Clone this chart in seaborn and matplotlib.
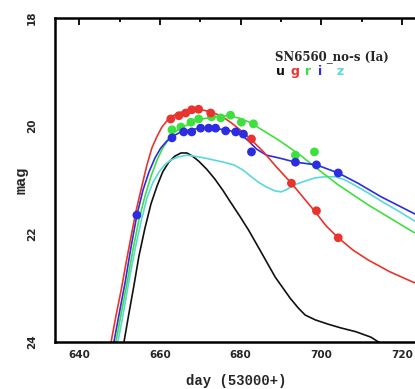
import matplotlib
matplotlib.use("Agg")
import matplotlib.pyplot as plt
import seaborn as sns
import pandas as pd
from matplotlib.ticker import MultipleLocator

# Model light curves (day - 53000, magnitude) for each band
u_day = [651.1, 652.3, 653.6, 654.8, 656.3, 657.8, 659.3, 660.7, 662.2, 663.7, 665.2, 666.7, 668.1, 669.6,
         671.6, 673.6, 675.6, 677.5, 679.8, 682.0, 685.2, 688.6, 692.3, 694.3, 696.0, 698.5, 701.7, 704.9,
         708.6, 712.3, 714.6, 717.8]
u_mag = [24.0, 23.48, 22.94, 22.41, 21.89, 21.44, 21.11, 20.85, 20.67, 20.56, 20.50, 20.50, 20.56, 20.65,
         20.80, 20.98, 21.19, 21.41, 21.67, 21.93, 22.35, 22.80, 23.19, 23.37, 23.50, 23.59, 23.67, 23.74,
         23.81, 23.91, 24.02, 24.11]

g_day = [647.9, 649.1, 650.4, 651.6, 652.8, 654.1, 655.6, 656.8, 658.0, 659.3, 660.5, 661.7, 663.2, 664.7,
         666.4, 668.4, 670.4, 672.6, 675.1, 677.5, 680.2, 682.7, 685.7, 688.9, 692.6, 695.6, 698.5, 701.2,
         704.2, 707.9, 711.6, 717.0, 722.7, 728.0]
g_mag = [24.0, 23.52, 23.04, 22.54, 22.07, 21.57, 21.09, 20.72, 20.41, 20.19, 20.02, 19.91, 19.81, 19.76,
         19.72, 19.70, 19.70, 19.74, 19.81, 19.93, 20.09, 20.26, 20.48, 20.76, 21.06, 21.33, 21.59, 21.85,
         22.07, 22.30, 22.48, 22.70, 22.89, 23.02]

r_day = [649.1, 650.4, 651.9, 653.3, 654.8, 656.3, 657.8, 659.3, 660.7, 662.2, 663.7, 665.7, 668.1, 670.6,
         673.3, 676.5, 679.5, 682.5, 685.7, 689.4, 692.3, 695.3, 698.8, 704.2, 711.6, 722.7, 728.0]
r_mag = [24.0, 23.48, 22.89, 22.30, 21.74, 21.30, 20.93, 20.63, 20.41, 20.24, 20.11, 20.02, 19.93, 19.87,
         19.83, 19.81, 19.85, 19.94, 20.09, 20.26, 20.41, 20.57, 20.78, 21.09, 21.46, 21.96, 22.15]

i_day = [648.6, 649.9, 651.4, 652.8, 654.3, 655.8, 657.3, 658.8, 660.2, 661.7, 663.2, 665.2, 667.7, 670.1,
         672.6, 675.1, 677.5, 680.0, 682.0, 684.0, 686.4, 689.4, 693.6, 698.8, 704.2, 709.1, 714.8, 722.7,
         728.0]
i_mag = [24.0, 23.48, 22.89, 22.26, 21.65, 21.19, 20.85, 20.59, 20.41, 20.28, 20.19, 20.11, 20.07, 20.04,
         20.04, 20.06, 20.09, 20.15, 20.28, 20.43, 20.54, 20.59, 20.67, 20.72, 20.87, 21.06, 21.31, 21.61,
         21.80]

z_day = [649.6, 650.9, 652.3, 653.8, 655.3, 656.8, 658.3, 659.8, 661.2, 662.7, 664.7, 666.7, 668.6, 670.9,
         673.3, 675.8, 678.3, 680.5, 682.5, 684.4, 686.4, 688.4, 690.1, 691.6, 693.3, 696.0, 698.5, 701.0,
         703.5, 705.9, 708.6, 711.6, 715.3, 719.0, 722.7, 728.0]
z_mag = [24.0, 23.48, 22.89, 22.30, 21.78, 21.33, 21.04, 20.85, 20.72, 20.63, 20.57, 20.54, 20.56, 20.59,
         20.63, 20.67, 20.72, 20.81, 20.93, 21.04, 21.13, 21.20, 21.22, 21.17, 21.09, 21.02, 20.96, 20.94,
         20.94, 21.00, 21.11, 21.24, 21.41, 21.57, 21.74, 21.95]

# Observed photometry
g_obs_day = [662.7, 664.7, 666.4, 667.9, 669.6, 672.6, 682.7, 692.6, 698.8, 704.2]
g_obs_mag = [19.87, 19.81, 19.76, 19.70, 19.69, 19.76, 20.24, 21.06, 21.57, 22.07]

r_obs_day = [663.0, 665.2, 667.7, 669.6, 672.8, 675.1, 677.5, 680.2, 683.2, 693.6, 698.3]
r_obs_mag = [20.07, 20.02, 19.93, 19.87, 19.83, 19.85, 19.80, 19.93, 19.96, 20.54, 20.48]

i_obs_day = [654.3, 663.0, 665.9, 667.9, 670.1, 672.1, 673.8, 676.3, 678.8, 680.7, 682.7, 693.6, 698.8, 704.2]
i_obs_mag = [21.65, 20.22, 20.11, 20.11, 20.04, 20.04, 20.04, 20.09, 20.11, 20.15, 20.48, 20.67, 20.72, 20.87]

bands = ["u", "g", "r", "i", "z"]
band_colors = ["#111111", "#e8342c", "#3ee03e", "#2c2ce0", "#5ad8dc"]

x_ticks = [640, 660, 680, 700, 720]
y_ticks = [18, 20, 22, 24]
title_text = "SN6560_no-s (Ia)"

sns.set_style("white")
plt.rcParams["font.family"] = ["DejaVu Sans"]

fig = plt.figure(figsize=(4.15, 3.89), dpi=100)
ax = fig.add_axes([0.1325, 0.1208, 0.875, 0.833])

curves = pd.concat([
    pd.DataFrame({"day": d, "mag": m, "band": b})
    for d, m, b in [(u_day, u_mag, "u"), (g_day, g_mag, "g"), (r_day, r_mag, "r"),
                    (i_day, i_mag, "i"), (z_day, z_mag, "z")]
])
palette = dict(zip(bands, band_colors))
for b in ["u", "z", "r", "i", "g"]:
    sub = curves[curves.band == b]
    sns.lineplot(data=sub, x="day", y="mag", color=palette[b], sort=False,
                 linewidth=1.2, ax=ax, legend=False)

obs = pd.concat([
    pd.DataFrame({"day": d, "mag": m, "band": b})
    for d, m, b in [(r_obs_day, r_obs_mag, "r"), (g_obs_day, g_obs_mag, "g"),
                    (i_obs_day, i_obs_mag, "i")]
])
for b in ["r", "g", "i"]:
    sub = obs[obs.band == b]
    sns.scatterplot(data=sub, x="day", y="mag", color=palette[b], s=40,
                    edgecolor="none", ax=ax, legend=False, zorder=5)

ax.set_xlim(634, 724)
ax.set_ylim(24, 18)
ax.xaxis.set_minor_locator(MultipleLocator(10))
ax.yaxis.set_minor_locator(MultipleLocator(1))
ax.set_xticks(x_ticks)
ax.set_yticks(y_ticks)
ax.set_xticklabels([str(t) for t in x_ticks], fontsize=7.5, fontweight="bold")
ax.set_yticklabels([str(t) for t in y_ticks], fontsize=7.5, fontweight="bold",
                   rotation=90, va="center")

ax.tick_params(which="both", direction="in", top=True, right=False, color="black")
ax.tick_params(which="major", length=5, width=1.3)
ax.tick_params(which="minor", length=3, width=1.3)
ax.tick_params(axis="x", pad=6)
ax.tick_params(axis="y", pad=13)

for side in ["left", "bottom", "top"]:
    ax.spines[side].set_linewidth(1.8)
    ax.spines[side].set_color("black")
ax.spines["right"].set_visible(False)

ax.set_xlabel("day (53000+)", family="Liberation Mono", fontweight="bold", fontsize=10, labelpad=10)
ax.set_ylabel("mag", family="Liberation Mono", fontweight="bold", fontsize=11, labelpad=-1)

ax.text(688.6, 18.72, title_text, family="DejaVu Serif", fontweight="bold",
        fontsize=8.5, ha="left", va="center")
letter_x = [688.9, 692.3, 696.0, 699.3, 703.7]
for lx, b, c in zip(letter_x, bands, band_colors):
    ax.text(lx, 19.0, b, family="DejaVu Sans", fontweight="bold", fontsize=9,
            color=c, ha="left", va="center")

fig.savefig("out.png", dpi=100)
